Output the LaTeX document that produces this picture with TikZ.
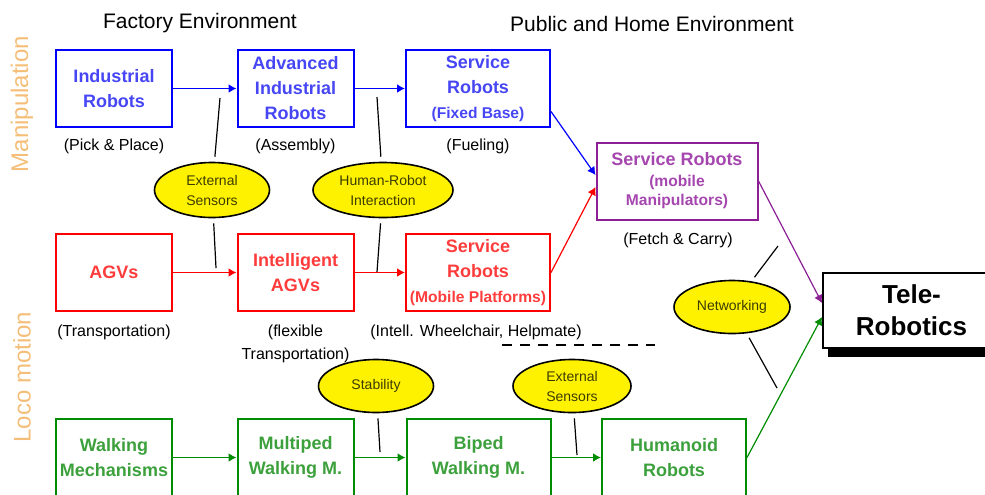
\documentclass[tikz,border=0pt]{standalone}
\usepackage{tkz-euclide}
\usepackage{fontspec}
\setmainfont{Liberation Sans}
\usetikzlibrary{arrows.meta,shadows,shapes.geometric}

\definecolor{mblue}{RGB}{0,0,255}
\definecolor{tblue}{RGB}{70,70,245}
\definecolor{mred}{RGB}{255,0,0}
\definecolor{tred}{RGB}{255,60,60}
\definecolor{mgreen}{RGB}{0,140,0}
\definecolor{tgreen}{RGB}{60,160,60}
\definecolor{mpurple}{RGB}{140,30,150}
\definecolor{tpurple}{RGB}{165,70,175}
\definecolor{morange}{RGB}{245,190,120}
\definecolor{tolive}{RGB}{60,60,0}

\newcommand\subline[1]{{\fontsize{7.8}{9}\selectfont #1}}

\tikzset{
  box/.style={draw, line width=1pt, minimum width=58pt, minimum height=38.5pt,
    inner sep=1pt, align=center, font=\bfseries\fontsize{9}{12.5}\selectfont},
  wbox/.style={box, minimum width=72pt},
  topic/.style={ellipse, draw, line width=0.8pt, fill=yellow, text=tolive,
    minimum width=57.5pt, minimum height=27.5pt, inner sep=0pt, align=center,
    font=\fontsize{7}{10}\selectfont},
  note/.style={align=center, font=\fontsize{8}{11.5}\selectfont},
  flow/.style={line width=0.9pt, -{Latex[length=4pt,width=4.5pt]}},
  tick/.style={line width=0.6pt, shorten <=2.5pt}
}

\begin{document}
\begin{tikzpicture}[x=0.5pt,y=-0.5pt]
\useasboundingbox (0,0) rectangle (985,494);
% centres of the boxes
\tkzDefPoints{114/88.5/A1, 295.5/88.5/A2, 478/88.5/A3,
  114/272.5/B1, 295.5/272.5/B2, 478/272.5/B3,
  114/457.5/C1, 295.5/457.5/C2, 478.5/457.5/C3, 674/457.5/C4,
  677/181/M, 911.5/310/T}
% centres of the ellipses
\tkzDefPoints{212/190/E, 383/190/H, 376/386/S, 572/386/F, 732/307/N}
% free ends of the ticks
\tkzDefPoints{220/98/E1, 216/268/E2, 377/97/H1, 377/272/H2,
  380/452/S1, 577/455/F1, 778/246/N1, 777/388/N2, 502/345/D1, 655/345/D2}

% headings
\node[font=\fontsize{10.5}{12}\selectfont] (fe) at (200,23) {Factory Environment};
\node[font=\fontsize{10.5}{12}\selectfont] (phe) at (652,24) {Public and Home Environment};
\node[rotate=90, text=morange, font=\fontsize{12}{14}\selectfont] (manip) at (22,104) {Manipulation};
\node[rotate=90, text=morange, font=\fontsize{12}{14}\selectfont] (loco) at (22,377) {Loco motion};

% manipulation
\node[box, draw=mblue, text=tblue] (ir) at (A1) {Industrial\\Robots};
\node[box, draw=mblue, text=tblue] (air) at (A2) {Advanced\\Industrial\\Robots};
\node[wbox, draw=mblue, text=tblue] (sfb) at (A3) {Service\\Robots\\\subline{(Fixed Base)}};
\node[note] (pp) at (114,146) {(Pick \& Place)};
\node[note] (asm) at (295.5,146) {(Assembly)};
\node[note] (fue) at (478,146) {(Fueling)};

% transportation
\node[box, draw=mred, text=tred] (agv) at (B1) {AGVs};
\node[box, draw=mred, text=tred] (iagv) at (B2) {Intelligent\\AGVs};
\node[wbox, draw=mred, text=tred] (smp) at (B3) {Service\\Robots\\\subline{(Mobile Platforms)}};
\node[note] (tra) at (114,332) {(Transportation)};
\node[note] (ftr) at (295.5,344) {(flexible\\Transportation)};
\node[note] (iwh) at (476,332) {(Intell. Wheelchair, Helpmate)};

% locomotion
\node[box, draw=mgreen, text=tgreen] (wm) at (C1) {Walking\\Mechanisms};
\node[box, draw=mgreen, text=tgreen] (mwm) at (C2) {Multiped\\Walking M.};
\node[wbox, draw=mgreen, text=tgreen] (bwm) at (C3) {Biped\\Walking M.};
\node[wbox, draw=mgreen, text=tgreen] (hr) at (C4) {Humanoid\\Robots};

% mobile manipulation and tele-robotics
\node[box, minimum width=80.5pt, draw=mpurple, text=tpurple] (smm) at (M)
  {Service Robots\\[-2pt]\subline{(mobile}\\[-3pt]\subline{Manipulators)}};
\node[note] (fc) at (678,240) {(Fetch \& Carry)};
\node[box, minimum width=88.5pt, minimum height=37.5pt, fill=white,
  font=\bfseries\fontsize{13}{16}\selectfont,
  drop shadow={shadow xshift=2.5pt, shadow yshift=-4.5pt, fill=black, opacity=1}]
  (tr) at (T) {Tele-\\Robotics};

% topics
\node[topic] (es1) at (E) {External\\Sensors};
\node[topic, minimum width=70pt] (hri) at (H) {Human-Robot\\Interaction};
\node[topic, minimum height=26.5pt] (st) at (S) {Stability};
\node[topic, minimum width=59pt, minimum height=26.5pt] (es2) at (F) {External\\Sensors};
\node[topic, minimum width=58pt, minimum height=26.5pt] (nw) at (N) {Networking};

% flows
\draw[flow, mblue] (ir) -- (air);
\draw[flow, mblue] (air) -- (sfb);
\draw[flow, mblue, line width=0.6pt] ([yshift=-11.5pt]sfb.east) -- ([yshift=3pt]smm.west);
\draw[flow, mred] (agv) -- (iagv);
\draw[flow, mred] (iagv) -- (smp);
\draw[flow, mred, line width=0.6pt] (smp.east) -- ([yshift=-3pt]smm.west);
\draw[flow, mgreen] (wm) -- (mwm);
\draw[flow, mgreen] (mwm) -- (bwm);
\draw[flow, mgreen] (bwm) -- (hr);
\draw[flow, mpurple, line width=0.6pt] (smm.east) -- ([yshift=3.5pt]tr.west);
\draw[flow, mgreen, line width=0.6pt] (hr.east) -- ([yshift=-3.5pt]tr.west);

% ticks
\draw[tick] (es1) -- (E1);
\draw[tick] (es1) -- (E2);
\draw[tick] (hri) -- (H1);
\draw[tick] (hri) -- (H2);
\draw[tick] (st) -- (S1);
\draw[tick] (es2) -- (F1);
\draw[tick] (nw) -- (N1);
\draw[tick] (nw) -- (N2);
\draw[line width=0.7pt, dash pattern=on 5pt off 4pt] (D1) -- (D2);
\end{tikzpicture}
\end{document}
